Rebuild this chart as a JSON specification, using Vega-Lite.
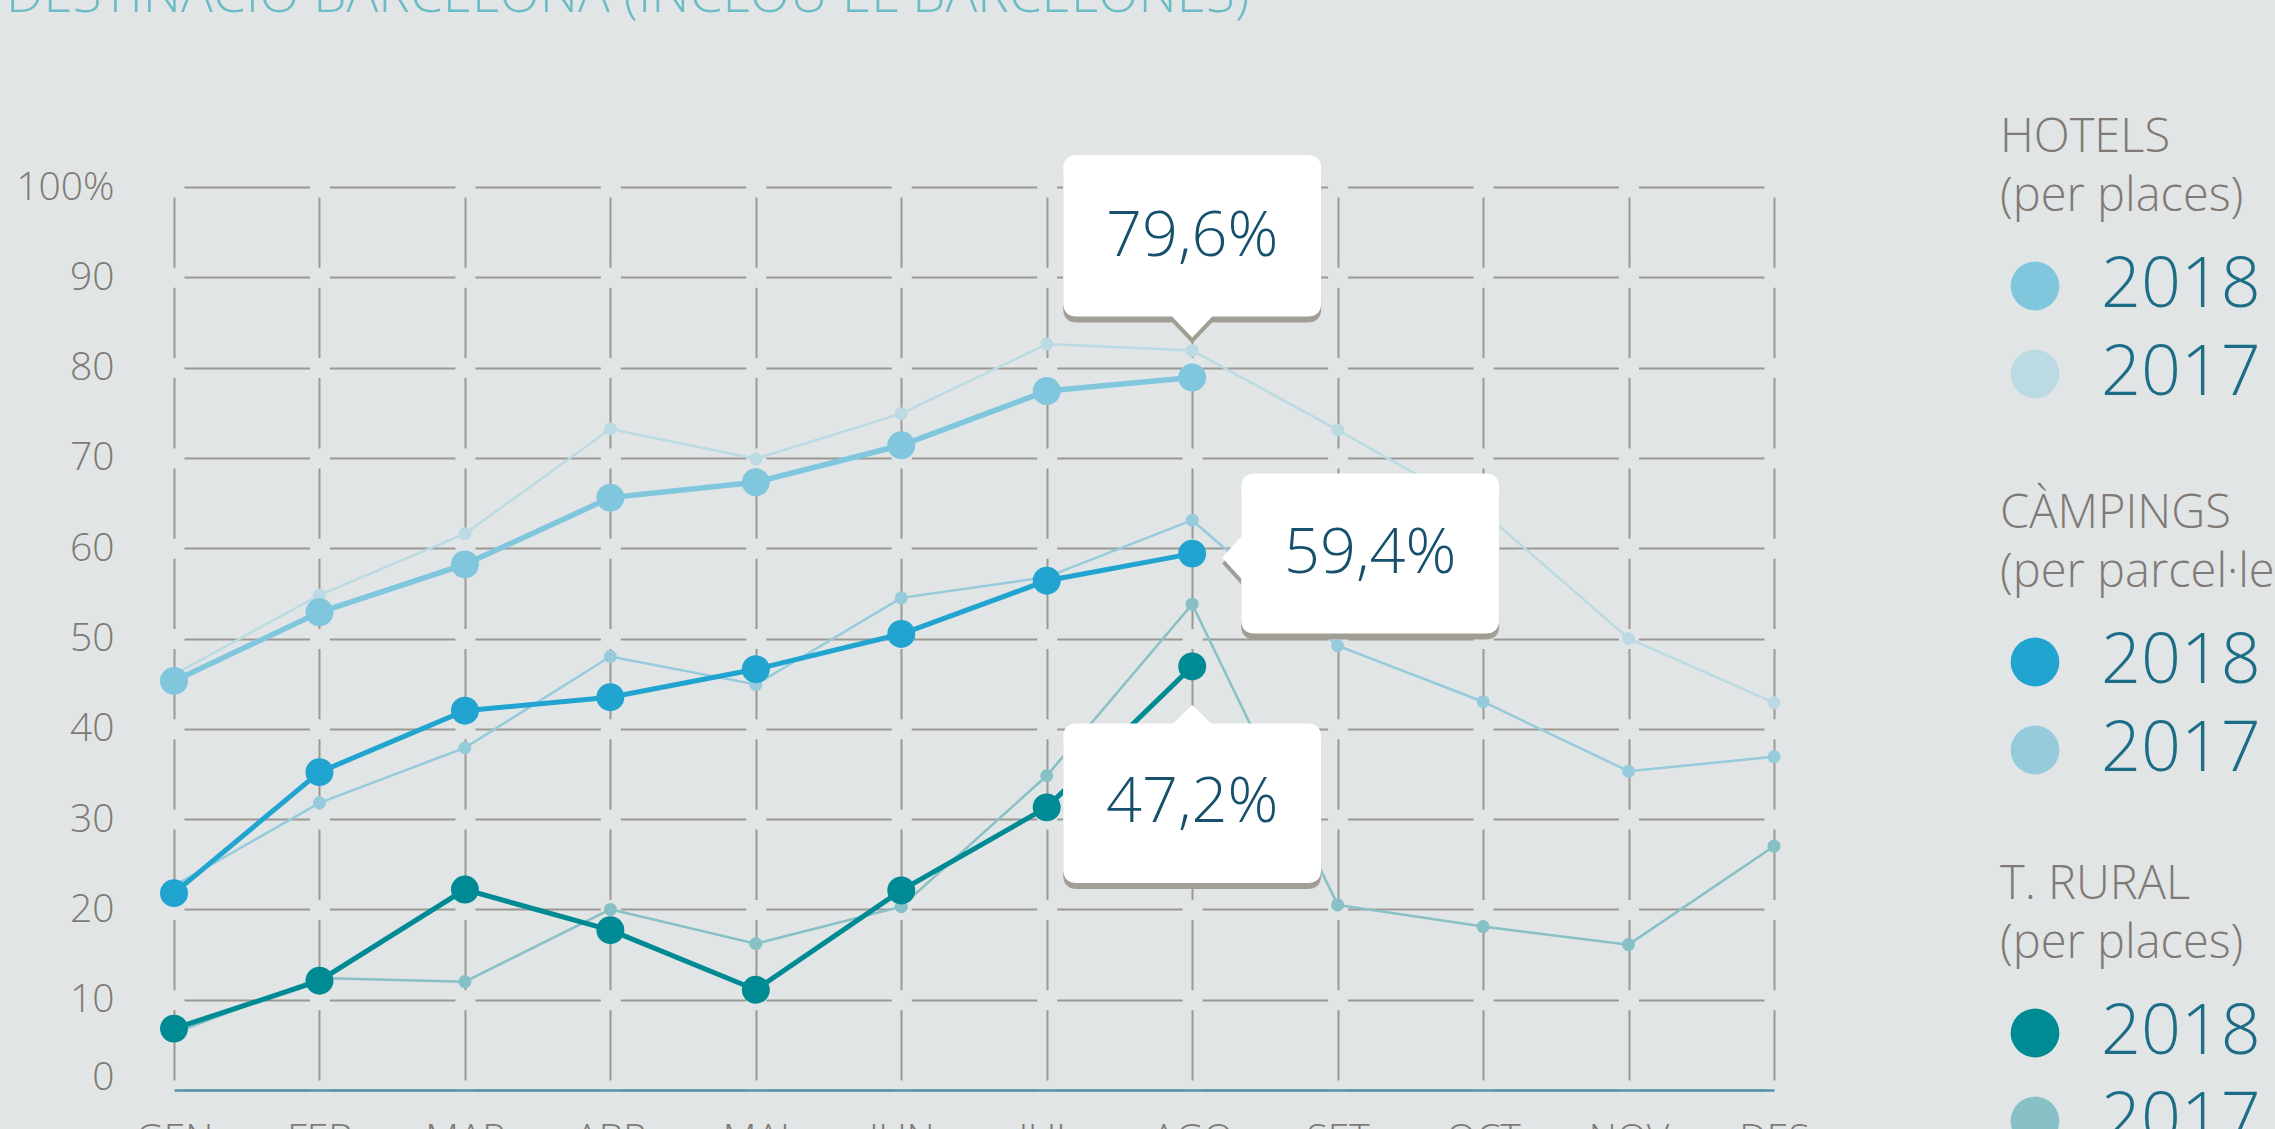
{
  "$schema": "https://vega.github.io/schema/vega-lite/v6.json",
  "width": 1600,
  "height": 903,
  "autosize": {"type": "none"},
  "padding": {"left": 174, "top": 187, "right": 501, "bottom": 39},
  "background": "#e1e5e6",
  "title": {
    "text": "DESTINACIÓ BARCELONA (INCLOU EL BARCELONÈS)",
    "anchor": "start", "frame": "group", "orient": "top", "offset": 0,
    "baseline": "alphabetic", "dx": -168, "dy": -50,
    "fontSize": 53, "font": "Open Sans", "fontWeight": 300, "color": "#6cbcc5"
  },
  "config": {
    "view": {"stroke": null},
    "font": "Open Sans",
    "axisY": {
      "grid": true, "gridColor": "#9c9893", "gridWidth": 2,
      "gridDash": [125.45, 20], "gridDashOffset": 135.45,
      "domain": false, "ticks": false, "tickSize": 0, "labelPadding": 60,
      "labelFontSize": 39, "labelColor": "#7f7a75", "labelFont": "Open Sans", "labelFontWeight": 300
    },
    "axisX": {
      "grid": true, "gridColor": "#9c9893", "gridWidth": 2,
      "gridDash": [70.3, 20], "gridDashOffset": 80.3,
      "domain": true, "domainColor": "#4f95ab", "domainWidth": 2.5,
      "ticks": false, "tickSize": 0, "labelPadding": 30, "labelAngle": 0, "labelBaseline": "top",
      "labelFontSize": 39, "labelColor": "#7f7a75", "labelFont": "Open Sans", "labelFontWeight": 300
    },
    "legend": {
      "orient": "none", "padding": 0,
      "titleFont": "Open Sans", "titleFontWeight": 300, "titleFontSize": 47, "titleColor": "#7f7a75",
      "titleLineHeight": 59, "titlePadding": 30, "titleLimit": 500, "titleAnchor": "start",
      "labelFont": "Open Sans", "labelFontWeight": 300, "labelFontSize": 70, "labelColor": "#1d6d86",
      "labelOffset": 31, "labelLimit": 400,
      "symbolType": "circle", "symbolSize": 2376, "symbolStrokeWidth": 0, "symbolOffset": 0,
      "rowPadding": 18
    }
  },
  "datasets": {
    "series": [
      {"cat": "Hotels", "year": "2018", "month": "GEN", "value": 45.3},
      {"cat": "Hotels", "year": "2018", "month": "FEB", "value": 52.9},
      {"cat": "Hotels", "year": "2018", "month": "MAR", "value": 58.2},
      {"cat": "Hotels", "year": "2018", "month": "ABR", "value": 65.6},
      {"cat": "Hotels", "year": "2018", "month": "MAI", "value": 67.3},
      {"cat": "Hotels", "year": "2018", "month": "JUN", "value": 71.4},
      {"cat": "Hotels", "year": "2018", "month": "JUL", "value": 77.4},
      {"cat": "Hotels", "year": "2018", "month": "AGO", "value": 78.9},
      {"cat": "Hotels", "year": "2017", "month": "GEN", "value": 46.0},
      {"cat": "Hotels", "year": "2017", "month": "FEB", "value": 54.8},
      {"cat": "Hotels", "year": "2017", "month": "MAR", "value": 61.6},
      {"cat": "Hotels", "year": "2017", "month": "ABR", "value": 73.2},
      {"cat": "Hotels", "year": "2017", "month": "MAI", "value": 69.9},
      {"cat": "Hotels", "year": "2017", "month": "JUN", "value": 74.9},
      {"cat": "Hotels", "year": "2017", "month": "JUL", "value": 82.6},
      {"cat": "Hotels", "year": "2017", "month": "AGO", "value": 81.9},
      {"cat": "Hotels", "year": "2017", "month": "SET", "value": 73.1},
      {"cat": "Hotels", "year": "2017", "month": "OCT", "value": 64.0},
      {"cat": "Hotels", "year": "2017", "month": "NOV", "value": 50.0},
      {"cat": "Hotels", "year": "2017", "month": "DES", "value": 42.9},
      {"cat": "Càmpings", "year": "2018", "month": "GEN", "value": 21.8},
      {"cat": "Càmpings", "year": "2018", "month": "FEB", "value": 35.2},
      {"cat": "Càmpings", "year": "2018", "month": "MAR", "value": 42.0},
      {"cat": "Càmpings", "year": "2018", "month": "ABR", "value": 43.5},
      {"cat": "Càmpings", "year": "2018", "month": "MAI", "value": 46.6},
      {"cat": "Càmpings", "year": "2018", "month": "JUN", "value": 50.5},
      {"cat": "Càmpings", "year": "2018", "month": "JUL", "value": 56.4},
      {"cat": "Càmpings", "year": "2018", "month": "AGO", "value": 59.4},
      {"cat": "Càmpings", "year": "2017", "month": "GEN", "value": 22.6},
      {"cat": "Càmpings", "year": "2017", "month": "FEB", "value": 31.8},
      {"cat": "Càmpings", "year": "2017", "month": "MAR", "value": 37.9},
      {"cat": "Càmpings", "year": "2017", "month": "ABR", "value": 48.0},
      {"cat": "Càmpings", "year": "2017", "month": "MAI", "value": 44.9},
      {"cat": "Càmpings", "year": "2017", "month": "JUN", "value": 54.5},
      {"cat": "Càmpings", "year": "2017", "month": "JUL", "value": 56.8},
      {"cat": "Càmpings", "year": "2017", "month": "AGO", "value": 63.1},
      {"cat": "Càmpings", "year": "2017", "month": "SET", "value": 49.2},
      {"cat": "Càmpings", "year": "2017", "month": "OCT", "value": 43.0},
      {"cat": "Càmpings", "year": "2017", "month": "NOV", "value": 35.3},
      {"cat": "Càmpings", "year": "2017", "month": "DES", "value": 36.9},
      {"cat": "T. rural", "year": "2018", "month": "GEN", "value": 6.8},
      {"cat": "T. rural", "year": "2018", "month": "FEB", "value": 12.1},
      {"cat": "T. rural", "year": "2018", "month": "MAR", "value": 22.2},
      {"cat": "T. rural", "year": "2018", "month": "ABR", "value": 17.7},
      {"cat": "T. rural", "year": "2018", "month": "MAI", "value": 11.1},
      {"cat": "T. rural", "year": "2018", "month": "JUN", "value": 22.1},
      {"cat": "T. rural", "year": "2018", "month": "JUL", "value": 31.3},
      {"cat": "T. rural", "year": "2018", "month": "AGO", "value": 46.9},
      {"cat": "T. rural", "year": "2017", "month": "GEN", "value": 6.3},
      {"cat": "T. rural", "year": "2017", "month": "FEB", "value": 12.4},
      {"cat": "T. rural", "year": "2017", "month": "MAR", "value": 12.0},
      {"cat": "T. rural", "year": "2017", "month": "ABR", "value": 20.0},
      {"cat": "T. rural", "year": "2017", "month": "MAI", "value": 16.2},
      {"cat": "T. rural", "year": "2017", "month": "JUN", "value": 20.3},
      {"cat": "T. rural", "year": "2017", "month": "JUL", "value": 34.8},
      {"cat": "T. rural", "year": "2017", "month": "AGO", "value": 53.8},
      {"cat": "T. rural", "year": "2017", "month": "SET", "value": 20.5},
      {"cat": "T. rural", "year": "2017", "month": "OCT", "value": 18.1},
      {"cat": "T. rural", "year": "2017", "month": "NOV", "value": 16.1},
      {"cat": "T. rural", "year": "2017", "month": "DES", "value": 27.0}
    ],
    "callouts": [
      {"cat": "Hotels", "month": "AGO", "value": 78.9, "label": "79,6%", "side": "above"},
      {"cat": "Càmpings", "month": "AGO", "value": 59.4, "label": "59,4%", "side": "right"},
      {"cat": "T. rural", "month": "AGO", "value": 46.9, "label": "47,2%", "side": "below"}
    ]
  },
  "encoding": {
    "x": {
      "field": "month", "type": "ordinal", "title": null,
      "sort": ["GEN", "FEB", "MAR", "ABR", "MAI", "JUN", "JUL", "AGO", "SET", "OCT", "NOV", "DES"],
      "scale": {"type": "point", "padding": 0}
    },
    "y": {
      "field": "value", "type": "quantitative", "title": null,
      "scale": {"domain": [0, 100], "nice": false},
      "axis": {
        "values": [0, 10, 20, 30, 40, 50, 60, 70, 80, 90, 100],
        "labelExpr": "datum.value === 100 ? '100%' : datum.label",
        "labelOffset": {"condition": {"test": "datum.value === 0", "value": -13}, "value": 0}
      }
    }
  },
  "layer": [
    {
      "data": {"name": "series"},
      "transform": [{"filter": "datum.cat === 'Hotels'"}],
      "encoding": {
        "color": {"field": "year", "type": "nominal",
          "scale": {"domain": ["2018", "2017"], "range": ["#80c7de", "#bcdae3"]},
          "legend": {"orient": "none", "legendX": 1826, "legendY": -72, "title": ["HOTELS", "(per places)"]}}
      },
      "layer": [
        {"transform": [{"filter": "datum.year === '2017'"}], "mark": {"type": "line", "strokeWidth": 2.5}},
        {"transform": [{"filter": "datum.year === '2017'"}], "mark": {"type": "point", "filled": true, "opacity": 1, "size": 170}},
        {"transform": [{"filter": "datum.year === '2018'"}], "mark": {"type": "line", "strokeWidth": 5.5}},
        {"transform": [{"filter": "datum.year === '2018'"}], "mark": {"type": "point", "filled": true, "opacity": 1, "size": 780}}
      ]
    },
    {
      "data": {"name": "series"},
      "transform": [{"filter": "datum.cat === 'Càmpings'"}],
      "encoding": {
        "color": {"field": "year", "type": "nominal",
          "scale": {"domain": ["2018", "2017"], "range": ["#21a4cf", "#96cbdc"]},
          "legend": {"orient": "none", "legendX": 1826, "legendY": 304, "title": ["CÀMPINGS", "(per parcel·les)"]}}
      },
      "layer": [
        {"transform": [{"filter": "datum.year === '2017'"}], "mark": {"type": "line", "strokeWidth": 2.5}},
        {"transform": [{"filter": "datum.year === '2017'"}], "mark": {"type": "point", "filled": true, "opacity": 1, "size": 170}},
        {"transform": [{"filter": "datum.year === '2018'"}], "mark": {"type": "line", "strokeWidth": 5}},
        {"transform": [{"filter": "datum.year === '2018'"}], "mark": {"type": "point", "filled": true, "opacity": 1, "size": 780}}
      ]
    },
    {
      "data": {"name": "series"},
      "transform": [{"filter": "datum.cat === 'T. rural'"}],
      "encoding": {
        "color": {"field": "year", "type": "nominal",
          "scale": {"domain": ["2018", "2017"], "range": ["#008b94", "#87c1c6"]},
          "legend": {"orient": "none", "legendX": 1826, "legendY": 675, "title": ["T. RURAL", "(per places)"]}}
      },
      "layer": [
        {"transform": [{"filter": "datum.year === '2017'"}], "mark": {"type": "line", "strokeWidth": 2.5}},
        {"transform": [{"filter": "datum.year === '2017'"}], "mark": {"type": "point", "filled": true, "opacity": 1, "size": 170}},
        {"transform": [{"filter": "datum.year === '2018'"}], "mark": {"type": "line", "strokeWidth": 5}},
        {"transform": [{"filter": "datum.year === '2018'"}], "mark": {"type": "point", "filled": true, "opacity": 1, "size": 780}}
      ]
    },
    {
      "data": {"name": "callouts"},
      "mark": {"type": "point", "filled": true, "opacity": 1, "size": 40000, "color": "#a19f95", "yOffset": 6},
      "encoding": {
        "shape": {"field": "side", "type": "nominal", "legend": null,
          "scale": {"domain": ["above", "right", "below"], "range": [
            "M -1.15 -2.225 L 1.15 -2.225 Q 1.29 -2.225 1.29 -2.085 L 1.29 -0.75 Q 1.29 -0.61 1.15 -0.61 L 0.2 -0.61 L 0 -0.4 L -0.2 -0.61 L -1.15 -0.61 Q -1.29 -0.61 -1.29 -0.75 L -1.29 -2.085 Q -1.29 -2.225 -1.15 -2.225 Z",
            "M 0.63 -0.8 L 2.93 -0.8 Q 3.07 -0.8 3.07 -0.66 L 3.07 0.66 Q 3.07 0.8 2.93 0.8 L 0.63 0.8 Q 0.49 0.8 0.49 0.66 L 0.49 0.25 L 0.3 0.04 L 0.49 -0.17 L 0.49 -0.66 Q 0.49 -0.8 0.63 -0.8 Z",
            "M -1.15 0.57 L -0.19 0.57 L 0 0.385 L 0.19 0.57 L 1.15 0.57 Q 1.29 0.57 1.29 0.71 L 1.29 2.025 Q 1.29 2.165 1.15 2.165 L -1.15 2.165 Q -1.29 2.165 -1.29 2.025 L -1.29 0.71 Q -1.29 0.57 -1.15 0.57 Z"
          ]}}
      }
    },
    {
      "data": {"name": "callouts"},
      "mark": {"type": "point", "filled": true, "opacity": 1, "size": 40000, "color": "#ffffff"},
      "encoding": {
        "shape": {"field": "side", "type": "nominal", "legend": null}
      }
    },
    {
      "data": {"name": "callouts"},
      "transform": [{"filter": "datum.side === 'above'"}],
      "mark": {"type": "text", "dy": -141, "fontSize": 63, "font": "Open Sans", "fontWeight": 300, "color": "#17506d", "align": "center", "baseline": "middle"},
      "encoding": {"text": {"field": "label"}}
    },
    {
      "data": {"name": "callouts"},
      "transform": [{"filter": "datum.side === 'right'"}],
      "mark": {"type": "text", "dx": 178, "dy": 0, "fontSize": 63, "font": "Open Sans", "fontWeight": 300, "color": "#17506d", "align": "center", "baseline": "middle"},
      "encoding": {"text": {"field": "label"}}
    },
    {
      "data": {"name": "callouts"},
      "transform": [{"filter": "datum.side === 'below'"}],
      "mark": {"type": "text", "dy": 137, "fontSize": 63, "font": "Open Sans", "fontWeight": 300, "color": "#17506d", "align": "center", "baseline": "middle"},
      "encoding": {"text": {"field": "label"}}
    }
  ],
  "resolve": {"scale": {"color": "independent"}}
}
